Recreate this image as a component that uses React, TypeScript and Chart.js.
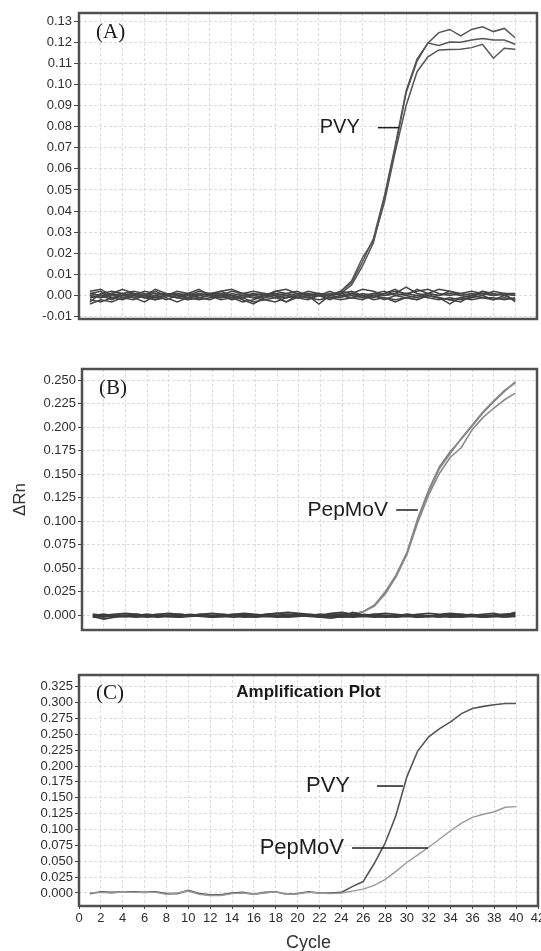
import React, { useEffect, useRef } from "react";
import { Chart, registerables } from "chart.js";

Chart.register(...registerables);

const SANS = '"Liberation Sans", Arial, Helvetica, sans-serif';
const SERIF = '"Liberation Serif", "Times New Roman", Times, serif';

// ---------- shared x data ----------
const cycles = [
  1, 2, 3, 4, 5, 6, 7, 8, 9, 10, 11, 12, 13, 14, 15, 16, 17, 18, 19, 20,
  21, 22, 23, 24, 25, 26, 27, 28, 29, 30, 31, 32, 33, 34, 35, 36, 37, 38, 39, 40,
];

// ---------- tick values ----------
const yTicksA = [-0.01, 0.0, 0.01, 0.02, 0.03, 0.04, 0.05, 0.06, 0.07, 0.08, 0.09, 0.1, 0.11, 0.12, 0.13];
const yTicksB = [0.0, 0.025, 0.05, 0.075, 0.1, 0.125, 0.15, 0.175, 0.2, 0.225, 0.25];
const yTicksC = [0.0, 0.025, 0.05, 0.075, 0.1, 0.125, 0.15, 0.175, 0.2, 0.225, 0.25, 0.275, 0.3, 0.325];

// ---------- Panel A : PVY ----------
const pvyA1 = [
  -0.001, 0.0, 0.001, 0.0, -0.001, 0.0, 0.001, 0.0, -0.001, 0.0,
  0.001, 0.0, -0.001, 0.001, 0.0, -0.001, 0.0, 0.001, 0.0, -0.001,
  0.0, 0.001, 0.0, 0.002, 0.006, 0.016, 0.027, 0.047, 0.071, 0.097,
  0.112, 0.1196, 0.1245, 0.126, 0.123, 0.126, 0.1273, 0.125, 0.1265, 0.1221,
];
const pvyA2 = [
  0.0, -0.001, 0.0, 0.001, 0.0, -0.001, 0.0, 0.001, 0.0, -0.001,
  0.0, 0.001, 0.0, -0.001, 0.0, 0.001, 0.0, -0.001, 0.0, 0.001,
  0.0, 0.0, 0.001, 0.001, 0.005, 0.014, 0.025, 0.046, 0.07, 0.096,
  0.111, 0.1196, 0.1184, 0.1201, 0.12, 0.121, 0.1217, 0.121, 0.121, 0.119,
];
const pvyA3 = [
  0.001, 0.0, -0.001, 0.0, 0.001, 0.0, -0.001, 0.0, 0.001, 0.0,
  -0.001, 0.0, 0.001, 0.0, -0.001, 0.0, 0.001, 0.0, -0.001, 0.0,
  0.001, 0.0, 0.0, 0.002, 0.007, 0.018, 0.026, 0.044, 0.068, 0.09,
  0.106, 0.113, 0.1163, 0.1165, 0.1166, 0.1174, 0.119, 0.1124, 0.1171, 0.1166,
];
const negA1 = [
  -0.003, 0.001, 0.002, 0.001, -0.001, -0.003, 0.0, 0.001, 0.0, -0.001,
  0.001, 0.0, 0.001, -0.001, -0.003, -0.002, 0.0, 0.001, 0.0, -0.001,
  0.0, -0.004, 0.0, 0.001, 0.0, -0.001, 0.001, 0.0, 0.001, 0.004,
  0.001, 0.0, -0.001, -0.004, -0.001, 0.0, 0.001, 0.0, 0.001, -0.003,
];
const negA2 = [
  0.002, 0.003, 0.0, 0.001, 0.002, 0.001, -0.001, 0.0, 0.002, 0.001,
  0.0, 0.001, 0.0, 0.002, 0.001, 0.0, 0.001, 0.0, -0.001, 0.0,
  0.002, 0.001, 0.0, 0.001, 0.002, 0.0, 0.001, 0.002, 0.0, 0.001,
  0.002, 0.003, 0.001, 0.0, 0.001, 0.002, 0.001, 0.0, 0.001, 0.001,
];
const negA3 = [
  -0.004, -0.002, -0.003, -0.001, -0.002, 0.0, -0.002, -0.001, -0.003, -0.001,
  -0.002, -0.001, 0.0, -0.002, -0.001, -0.003, -0.002, -0.001, -0.003, -0.001,
  -0.002, 0.0, -0.001, -0.002, -0.001, 0.0, -0.002, -0.001, -0.002, -0.001,
  0.0, -0.001, -0.002, -0.001, -0.002, -0.001, 0.0, -0.002, -0.001, -0.002,
];
const negA4 = [
  0.0, -0.001, 0.001, 0.003, 0.001, 0.0, 0.002, 0.0, -0.001, 0.001,
  0.003, 0.0, 0.002, 0.003, 0.001, 0.0, -0.001, 0.002, 0.001, 0.0,
  0.001, 0.0, 0.002, 0.0, -0.001, 0.001, 0.0, 0.001, 0.003, 0.0,
  -0.001, 0.001, 0.003, 0.002, 0.0, 0.001, 0.0, 0.002, 0.001, 0.0,
];
const negA5 = [
  -0.001, 0.0, -0.002, 0.0, 0.001, -0.001, 0.0, -0.002, 0.0, 0.001,
  -0.001, -0.002, 0.0, 0.0, -0.002, -0.004, -0.001, 0.0, -0.003, 0.0,
  -0.001, 0.0, -0.002, 0.0, 0.001, -0.001, 0.0, -0.002, 0.0, -0.001,
  -0.002, 0.0, -0.001, -0.002, -0.003, 0.0, -0.001, -0.002, 0.0, -0.002,
];
const negA6 = [
  0.001, 0.0, 0.001, -0.001, 0.0, 0.002, 0.001, 0.0, 0.001, 0.0,
  0.002, 0.001, -0.001, 0.0, 0.001, 0.002, 0.001, 0.0, 0.001, 0.002,
  0.0, 0.001, 0.0, 0.002, 0.001, 0.0, -0.001, 0.001, 0.002, 0.001,
  0.0, 0.001, 0.0, 0.001, 0.0, -0.001, 0.002, 0.001, 0.0, 0.001,
];
const negA7 = [
  -0.002, -0.003, -0.001, -0.002, 0.0, -0.001, -0.002, 0.0, -0.001, -0.002,
  -0.001, 0.0, -0.002, -0.001, 0.0, -0.001, -0.002, -0.003, -0.001, 0.0,
  -0.001, -0.002, -0.001, 0.0, -0.001, -0.002, 0.0, -0.001, -0.003, -0.001,
  -0.002, 0.0, -0.001, -0.002, -0.001, -0.002, -0.001, -0.001, -0.002, -0.001,
];
const negA8 = [
  0.001, 0.002, -0.001, 0.0, 0.001, 0.0, 0.003, 0.001, 0.0, -0.001,
  0.0, 0.001, 0.002, 0.0, -0.001, 0.001, 0.0, 0.002, 0.003, 0.001,
  0.0, 0.001, 0.0, -0.001, 0.001, 0.003, 0.002, 0.0, 0.001, 0.0,
  0.003, 0.001, 0.0, 0.002, 0.001, 0.0, 0.002, 0.0, 0.001, 0.0,
];

// ---------- Panel B : PepMoV ----------
const pepB1 = [
  0.0, 0.001, 0.0, -0.001, 0.0, 0.001, 0.0, 0.001, 0.0, -0.001,
  0.0, 0.001, 0.0, 0.0, 0.001, 0.0, -0.001, 0.0, 0.001, 0.0,
  0.0, 0.001, 0.0, 0.0, 0.001, 0.004, 0.011, 0.025, 0.043, 0.067,
  0.103, 0.133, 0.158, 0.174, 0.187, 0.201, 0.215, 0.227, 0.238, 0.248,
];
const pepB2 = [
  0.001, 0.0, -0.001, 0.0, 0.001, 0.0, -0.001, 0.0, 0.001, 0.0,
  -0.001, 0.0, 0.001, 0.0, 0.0, -0.001, 0.0, 0.001, 0.0, -0.001,
  0.001, 0.0, 0.001, 0.0, 0.001, 0.004, 0.01, 0.024, 0.042, 0.066,
  0.101, 0.131, 0.156, 0.172, 0.188, 0.202, 0.216, 0.228, 0.239, 0.247,
];
const pepB3 = [
  -0.001, 0.0, 0.001, 0.0, -0.001, 0.0, 0.001, 0.0, -0.001, 0.0,
  0.001, 0.0, -0.001, 0.0, 0.001, 0.0, 0.0, -0.001, 0.0, 0.001,
  0.0, -0.001, 0.0, 0.001, 0.001, 0.004, 0.01, 0.023, 0.041, 0.065,
  0.099, 0.128, 0.151, 0.168, 0.178, 0.197, 0.21, 0.22, 0.229, 0.236,
];
const negB1 = [
  -0.002, -0.001, 0.0, -0.001, 0.0, 0.001, 0.0, -0.001, 0.0, 0.001,
  0.0, -0.001, 0.0, 0.001, 0.002, 0.001, 0.0, -0.001, 0.0, 0.001,
  0.0, -0.001, 0.0, 0.001, 0.0, 0.001, 0.0, -0.001, 0.0, 0.001,
  0.0, -0.001, 0.0, 0.0, 0.001, 0.0, -0.001, 0.0, 0.001, 0.002,
];
const negB2 = [
  0.001, 0.0, 0.001, 0.002, 0.001, 0.0, 0.001, 0.002, 0.001, 0.0,
  0.001, 0.002, 0.001, 0.0, 0.001, 0.0, 0.001, 0.002, 0.003, 0.002,
  0.001, 0.0, 0.002, 0.003, 0.001, 0.0, 0.001, 0.002, 0.001, 0.0,
  0.001, 0.002, 0.001, 0.002, 0.001, 0.0, 0.001, 0.002, 0.0, 0.003,
];
const negB3 = [
  -0.001, -0.004, -0.002, -0.001, -0.002, -0.001, -0.002, -0.001, -0.002, -0.001,
  0.0, -0.002, -0.001, -0.002, -0.001, -0.002, -0.001, -0.002, -0.001, 0.0,
  -0.001, -0.002, -0.003, -0.001, -0.002, -0.001, -0.002, -0.001, -0.002, -0.001,
  -0.002, -0.001, -0.002, -0.001, -0.002, -0.001, -0.002, -0.001, -0.002, -0.001,
];
const negB4 = [
  0.0, 0.001, -0.001, 0.0, 0.001, 0.0, -0.001, 0.0, 0.001, 0.0,
  0.001, -0.001, 0.0, 0.001, 0.0, -0.001, 0.001, 0.002, 0.0, 0.001,
  0.0, 0.001, 0.0, -0.001, 0.003, 0.0, 0.001, 0.0, -0.001, 0.001,
  0.0, -0.001, 0.0, 0.001, 0.0, 0.001, -0.001, 0.0, 0.001, 0.001,
];
const negB5 = [
  0.0, -0.002, 0.0, -0.001, 0.0, -0.002, 0.0, -0.001, -0.002, 0.0,
  -0.001, -0.002, -0.001, 0.0, -0.002, -0.001, 0.0, -0.001, -0.002, -0.001,
  0.0, -0.002, -0.001, -0.002, -0.001, 0.0, -0.001, -0.002, -0.001, 0.0,
  -0.002, -0.001, 0.0, -0.002, -0.001, 0.0, -0.002, -0.001, 0.0, -0.001,
];

// ---------- Panel C : duplex ----------
const pvyC = [
  -0.001, 0.002, 0.001, 0.002, 0.002, 0.001, 0.002, -0.001, -0.001, 0.004,
  -0.001, -0.003, -0.003, 0.0, 0.001, -0.002, 0.001, 0.002, -0.002, -0.001,
  0.002, 0.0, 0.0, 0.001, 0.01, 0.018, 0.046, 0.078, 0.122, 0.183,
  0.224, 0.246, 0.259, 0.2695, 0.2826, 0.2905, 0.294, 0.2966, 0.2984, 0.2984,
];
const pepC = [
  0.0, 0.001, 0.0, 0.002, 0.001, 0.001, 0.001, -0.002, 0.0, 0.003,
  -0.002, -0.004, -0.004, -0.001, 0.0, -0.002, 0.0, 0.002, -0.002, -0.001,
  0.001, 0.0, -0.001, 0.0, 0.003, 0.006, 0.012, 0.021, 0.034, 0.048,
  0.06, 0.072, 0.085, 0.098, 0.11, 0.119, 0.124, 0.128, 0.135, 0.136,
];

const series = (vals: number[], color: string, width: number) => ({
  data: vals.map((v, i) => ({ x: cycles[i], y: v })),
  borderColor: color,
  borderWidth: width,
  pointRadius: 0,
  fill: false,
  tension: 0,
});

const panels: any[] = [
  {
    key: "A",
    top: 0,
    height: 330,
    padTop: 13,
    padRight: 4,
    xHeight: 11,
    yWidth: 79,
    tickLen: 5,
    yMin: -0.0111,
    yMax: 0.1338,
    yTicks: yTicksA,
    dec: 2,
    showX: false,
    label: "(A)",
    labelDy: 19,
    datasets: () => [
      series(negA1, "#454545", 1.5),
      series(negA2, "#454545", 1.5),
      series(negA3, "#454545", 1.5),
      series(negA4, "#454545", 1.5),
      series(negA5, "#454545", 1.5),
      series(negA6, "#454545", 1.5),
      series(negA7, "#454545", 1.5),
      series(negA8, "#454545", 1.5),
      series(pvyA1, "#555555", 1.5),
      series(pvyA2, "#555555", 1.5),
      series(pvyA3, "#555555", 1.5),
    ],
    notes: [{ text: "PVY", size: 20, textEnd: 25.75, from: 27.4, to: 29.35, y: 0.0795 }],
  },
  {
    key: "B",
    top: 330,
    height: 310,
    padTop: 39,
    padRight: 4,
    xHeight: 10,
    yWidth: 82,
    tickLen: 4,
    yMin: -0.0156,
    yMax: 0.2617,
    yTicks: yTicksB,
    dec: 3,
    showX: false,
    label: "(B)",
    labelDy: 19,
    yTitle: "\u0394Rn",
    datasets: () => [
      series(negB1, "#3c3c3c", 1.8),
      series(negB2, "#3c3c3c", 1.8),
      series(negB3, "#3c3c3c", 1.8),
      series(negB4, "#3c3c3c", 1.8),
      series(negB5, "#3c3c3c", 1.8),
      series(pepB3, "#8a8a8a", 1.6),
      series(pepB2, "#8a8a8a", 1.6),
      series(pepB1, "#7c7c7c", 1.6),
    ],
    notes: [{ text: "PepMoV", size: 21, textEnd: 28.25, from: 29.0, to: 31.0, y: 0.1119 }],
  },
  {
    key: "C",
    top: 640,
    height: 311,
    padTop: 35,
    padRight: 3,
    xHeight: 45,
    yWidth: 79,
    tickLen: 4,
    yMin: -0.0205,
    yMax: 0.3434,
    yTicks: yTicksC,
    dec: 3,
    showX: true,
    label: "(C)",
    labelDy: 18,
    title: "Amplification Plot",
    xTitle: "Cycle",
    datasets: () => [
      series(pepC, "#9a9a9a", 1.4),
      series(pvyC, "#555555", 1.6),
    ],
    notes: [
      { text: "PVY", size: 22, textEnd: 24.8, from: 27.27, to: 29.65, y: 0.1685 },
      { text: "PepMoV", size: 22, textEnd: 24.25, from: 24.98, to: 31.93, y: 0.0709 },
    ],
  },
];

function overlayPlugin(p: any) {
  return {
    id: "overlay" + p.key,
    afterDraw(chart: any) {
      const { ctx, chartArea } = chart;
      const xs = chart.scales.x;
      const ys = chart.scales.y;
      const { left, top, right, bottom } = chartArea;
      ctx.save();
      // frame
      ctx.strokeStyle = "#505050";
      ctx.lineWidth = 2.5;
      ctx.strokeRect(left, top, right - left, bottom - top);
      // panel label
      ctx.fillStyle = "#1a1a1a";
      ctx.font = `21px ${SERIF}`;
      ctx.textAlign = "left";
      ctx.textBaseline = "middle";
      ctx.fillText(p.label, left + 17, top + p.labelDy);
      // title
      if (p.title) {
        ctx.font = `bold 17px ${SANS}`;
        ctx.textAlign = "center";
        ctx.fillText(p.title, (left + right) / 2, top + 17);
      }
      // annotations
      for (const n of p.notes) {
        const yy = ys.getPixelForValue(n.y);
        ctx.font = `${n.size}px ${SANS}`;
        ctx.textAlign = "right";
        ctx.textBaseline = "middle";
        ctx.fillStyle = "#1e1e1e";
        ctx.fillText(n.text, xs.getPixelForValue(n.textEnd), yy);
        ctx.strokeStyle = "#1e1e1e";
        ctx.lineWidth = 1.5;
        ctx.beginPath();
        ctx.moveTo(xs.getPixelForValue(n.from), yy);
        ctx.lineTo(xs.getPixelForValue(n.to), yy);
        ctx.stroke();
      }
      // axis titles
      if (p.yTitle) {
        ctx.save();
        ctx.translate(20, (top + bottom) / 2);
        ctx.rotate(-Math.PI / 2);
        ctx.font = `17px ${SANS}`;
        ctx.textAlign = "center";
        ctx.textBaseline = "middle";
        ctx.fillStyle = "#333";
        ctx.fillText(p.yTitle, 0, 0);
        ctx.restore();
      }
      if (p.xTitle) {
        ctx.font = `18px ${SANS}`;
        ctx.textAlign = "center";
        ctx.textBaseline = "middle";
        ctx.fillStyle = "#333";
        ctx.fillText(p.xTitle, (left + right) / 2, bottom + 37);
      }
      ctx.restore();
    },
  };
}

function buildConfig(p: any): any {
  return {
    type: "line",
    data: { datasets: p.datasets() },
    options: {
      responsive: false,
      maintainAspectRatio: false,
      animation: false,
      layout: { padding: { top: p.padTop, right: p.padRight, left: 0, bottom: 0 } },
      plugins: {
        legend: { display: false },
        tooltip: { enabled: false },
        title: { display: false },
      },
      elements: { point: { radius: 0 }, line: { tension: 0 } },
      scales: {
        x: {
          type: "linear",
          min: 0,
          max: 42,
          ticks: {
            display: p.showX,
            stepSize: 2,
            autoSkip: false,
            maxRotation: 0,
            color: "#2e2e2e",
            font: { family: SANS, size: 13 },
            padding: 2,
          },
          grid: {
            color: "#dcdcdc",
            lineWidth: 1,
            drawTicks: p.showX,
            tickLength: 3,
            tickColor: "#444",
            tickWidth: 1,
          },
          border: { display: false, dash: [3, 2] },
          afterFit: (s: any) => {
            s.height = p.xHeight;
            s.paddingLeft = 0;
            s.paddingRight = 0;
          },
        },
        y: {
          type: "linear",
          min: p.yMin,
          max: p.yMax,
          afterBuildTicks: (s: any) => {
            s.ticks = p.yTicks.map((v: number) => ({ value: v }));
          },
          ticks: {
            autoSkip: false,
            color: "#2e2e2e",
            font: { family: SANS, size: 13 },
            padding: 2,
            callback: (v: any) => Number(v).toFixed(p.dec),
          },
          grid: {
            color: "#dcdcdc",
            lineWidth: 1,
            tickLength: p.tickLen,
            tickColor: "#444",
            tickWidth: 1,
          },
          border: { display: false, dash: [3, 2] },
          afterFit: (s: any) => {
            s.width = p.yWidth;
            s.paddingTop = 0;
            s.paddingBottom = 0;
          },
        },
      },
    },
    plugins: [overlayPlugin(p)],
  };
}

function Panel({ p }: { p: any }) {
  const ref = useRef<HTMLCanvasElement | null>(null);
  useEffect(() => {
    if (!ref.current) return;
    const chart = new Chart(ref.current, buildConfig(p));
    return () => chart.destroy();
  }, [p]);
  return (
    <canvas
      ref={ref}
      width={541}
      height={p.height}
      style={{ position: "absolute", left: 0, top: p.top, width: 541, height: p.height }}
    />
  );
}

export default function App() {
  return (
    <div
      style={{
        position: "absolute",
        left: 0,
        top: 0,
        width: 541,
        height: 951,
        background: "#ffffff",
        overflow: "hidden",
      }}
    >
      {panels.map((p) => (
        <Panel key={p.key} p={p} />
      ))}
    </div>
  );
}
